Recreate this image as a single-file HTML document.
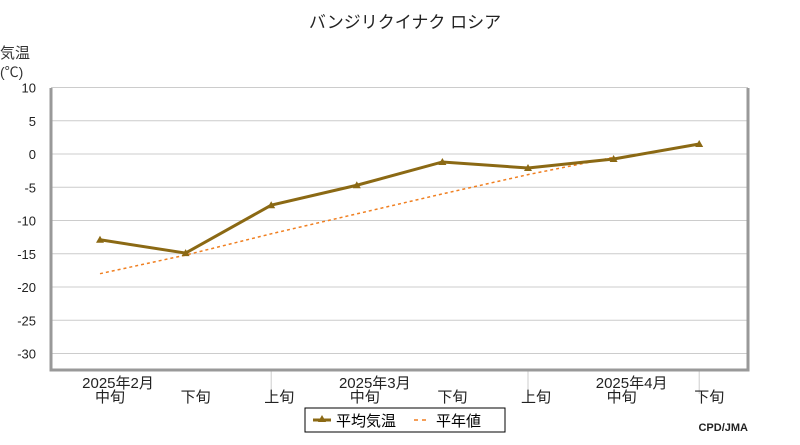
<!DOCTYPE html>
<html><head><meta charset="utf-8"><style>
body{margin:0;background:#fff;width:800px;height:440px;overflow:hidden}
svg text{font-family:"Liberation Sans","Noto Sans CJK JP",sans-serif}
</style></head><body>
<svg id="c" width="800" height="440">
<text x="405" y="28" font-size="17" text-anchor="middle" fill="#222">バンジリクイナク ロシア</text>
<text x="0" y="58" font-size="15" fill="#333">気温</text>
<text x="0" y="77" font-size="14" fill="#333">(℃)</text>
<g id="grid"></g><g id="marks"></g>
<rect x="305" y="408" width="200" height="24" fill="#fff" stroke="#000"/>
<line x1="313" y1="420" x2="331" y2="420" stroke="#8B6914" stroke-width="3"/>
<polygon points="318,422 322,415 326,422" fill="#8B6914"/>
<text x="336" y="426" font-size="15" fill="#000">平均気温</text>
<line x1="414" y1="420" x2="430" y2="420" stroke="#f07f20" stroke-width="1.5" stroke-dasharray="4,4"/>
<text x="436" y="426" font-size="15" fill="#000">平年値</text>
<text x="748" y="431" font-size="11" font-weight="bold" text-anchor="end" fill="#222" font-family="Liberation Mono">CPD/JMA</text>
</svg>
<script>
const periods=["中旬","下旬","上旬","中旬","下旬","上旬","中旬","下旬"];
const months=["2025年2月","2025年3月","2025年4月"];
const monthIdx=[0,3,6];
const avgTemp=[-12.9,-14.9,-7.7,-4.7,-1.2,-2.1,-0.75,1.5];
const normalTemp=[-18,-15.2,-12,-9,-6,-3.1,-0.5];
const yTicks=[10,5,0,-5,-10,-15,-20,-25,-30];
const NS="http://www.w3.org/2000/svg";
const X=i=>100+85.6*i, Y=v=>154-6.65*v;
const L=51,R=748,T=88,B=370;
function mk(p,t,a){const e=document.createElementNS(NS,t);for(const k in a)e.setAttribute(k,a[k]);p.appendChild(e);return e;}
const g=document.getElementById('grid'),m=document.getElementById('marks');
yTicks.forEach(v=>{
 const l=mk(g,'line',{x1:L,x2:R,y1:Y(v),y2:Y(v),stroke:'#ccc','stroke-width':1});
 
 
 const t=mk(g,'text',{x:36,y:Y(v)+5,'font-size':13,'text-anchor':'end',fill:'#222'});t.textContent=v;
 
 
});
[2.5,5.5,7.5].forEach(s=>{const l=mk(g,'line',{x1:X(s-0.5),x2:X(s-0.5),y1:B,y2:394,stroke:'#ccc'});
 
 });
const ax=mk(g,'path',{d:`M${L},${T} V${B} H${R} V${T}`,fill:'none',stroke:'#999','stroke-width':3});


periods.forEach((p,i)=>{const t=mk(g,'text',{x:X(i)+(i==0?10:i==1?10:i==3||i==6?8:i==4||i==7?10:8),y:402,'font-size':15,'text-anchor':'middle',fill:'#222'});t.textContent=p;
 
 });
months.forEach((mo,k)=>{const t=mk(g,'text',{x:X(monthIdx[k])+18,y:388,'font-size':15,'text-anchor':'middle',fill:'#222'});t.textContent=mo;
 
 });
const nl=mk(m,'polyline',{points:normalTemp.map((v,i)=>X(i)+','+Y(v)).join(' '),fill:'none',stroke:'#f07f20','stroke-width':1.5,'stroke-dasharray':'3,3'});


const al=mk(m,'polyline',{points:avgTemp.map((v,i)=>X(i)+','+Y(v)).join(' '),fill:'none',stroke:'#8B6914','stroke-width':3});


avgTemp.forEach((v,i)=>{const x=X(i),y=Y(v);const p=mk(m,'polygon',{points:`${x-4},${y+3} ${x},${y-4} ${x+4},${y+3}`,fill:'#8B6914'});
 
 });
</script>
</body></html>
